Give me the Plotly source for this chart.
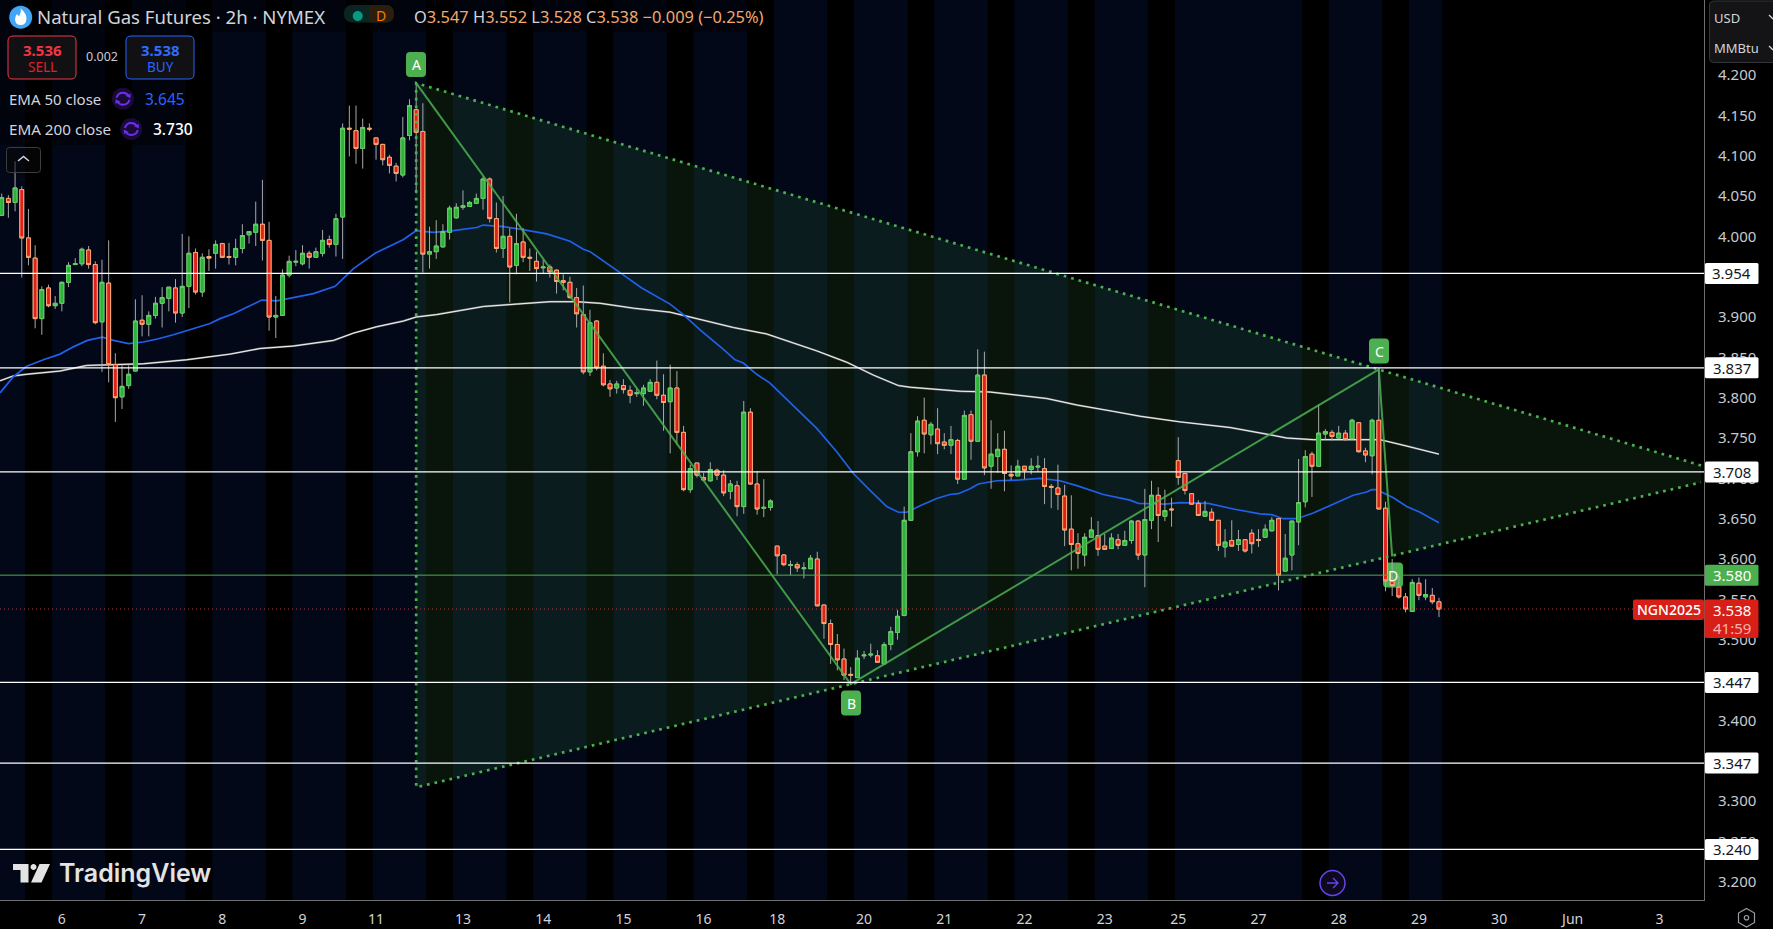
import plotly.graph_objects as go

# ---------- data (bar index 0..215, 2h bars) ----------
opens = [
4.026,4.047,4.042,4.058,3.998,3.973,3.898,3.936,3.914,3.917,
3.943,3.965,3.966,3.983,3.965,3.894,3.942,3.841,3.801,3.815,
3.833,3.896,3.891,3.902,3.917,3.923,3.936,3.905,3.938,3.980,
3.931,3.975,3.979,3.991,3.975,3.974,3.985,4.002,4.005,4.015,
3.995,3.900,3.902,3.952,3.968,3.966,3.979,3.974,3.979,3.996,
3.990,4.024,4.134,4.131,4.109,4.134,4.122,4.114,4.098,4.087,
4.076,4.125,4.157,4.130,3.978,3.981,3.987,4.005,4.023,4.036,
4.037,4.041,4.047,4.071,4.022,3.985,4.000,3.964,3.993,3.974,
3.969,3.961,3.962,3.958,3.945,3.943,3.924,3.903,3.832,3.895,
3.839,3.817,3.812,3.815,3.809,3.805,3.805,3.808,3.819,3.803,
3.795,3.812,3.757,3.686,3.719,3.701,3.697,3.710,3.704,3.684,
3.691,3.665,3.782,3.693,3.663,3.664,3.616,3.605,3.592,3.593,
3.588,3.588,3.600,3.543,3.520,3.494,3.476,3.457,3.453,3.480,
3.481,3.480,3.470,3.494,3.509,3.530,3.648,3.733,3.772,3.754,
3.761,3.745,3.741,3.747,3.699,3.779,3.746,3.828,3.715,3.727,
3.736,3.705,3.703,3.715,3.711,3.714,3.712,3.690,3.688,3.678,
3.637,3.619,3.605,3.627,3.629,3.616,3.613,3.624,3.617,3.623,
3.647,3.605,3.648,3.679,3.653,3.662,3.722,3.706,3.681,3.669,
3.653,3.658,3.648,3.615,3.623,3.618,3.624,3.632,3.624,3.627,
3.635,3.650,3.585,3.605,3.646,3.671,3.730,3.715,3.755,3.757,
3.750,3.756,3.749,3.769,3.734,3.728,3.772,3.663,3.572,3.565,
3.553,3.535,3.570,3.553,3.555,3.547]
highs = [
4.053,4.051,4.093,4.062,4.034,3.989,3.938,3.940,3.926,3.944,
3.968,3.973,3.986,3.988,3.969,3.971,3.995,3.855,3.840,3.840,
3.922,3.927,3.907,3.925,3.937,3.937,3.947,4.003,4.000,3.985,
3.979,3.984,3.995,3.992,3.992,3.997,4.015,4.006,4.043,4.070,
4.018,3.926,3.959,3.976,3.983,3.989,3.982,3.986,4.008,4.001,
4.028,4.140,4.162,4.162,4.146,4.140,4.122,4.114,4.101,4.091,
4.148,4.170,4.190,4.165,4.012,4.020,4.015,4.038,4.041,4.057,
4.044,4.053,4.074,4.073,4.042,4.050,4.010,4.028,4.010,3.985,
3.981,3.971,3.965,3.959,3.953,3.950,3.936,3.939,3.909,3.896,
3.855,3.822,3.821,3.823,3.815,3.811,3.816,3.823,3.846,3.829,
3.841,3.833,3.765,3.717,3.719,3.707,3.720,3.712,3.710,3.698,
3.697,3.796,3.787,3.709,3.699,3.674,3.616,3.606,3.598,3.596,
3.596,3.605,3.609,3.543,3.525,3.507,3.489,3.466,3.487,3.486,
3.495,3.487,3.497,3.516,3.537,3.665,3.756,3.777,3.800,3.770,
3.787,3.756,3.765,3.749,3.784,3.784,3.860,3.857,3.772,3.756,
3.759,3.716,3.723,3.715,3.725,3.728,3.725,3.693,3.717,3.692,
3.679,3.632,3.632,3.652,3.647,3.631,3.632,3.631,3.635,3.648,
3.648,3.687,3.697,3.689,3.686,3.676,3.751,3.706,3.681,3.673,
3.672,3.663,3.648,3.637,3.648,3.636,3.624,3.637,3.637,3.643,
3.652,3.650,3.631,3.647,3.724,3.735,3.733,3.792,3.761,3.760,
3.765,3.760,3.774,3.769,3.738,3.774,3.836,3.671,3.600,3.581,
3.558,3.575,3.577,3.575,3.564,3.552]
lows = [
4.026,4.023,4.031,3.949,3.964,3.886,3.878,3.912,3.910,3.907,
3.937,3.965,3.963,3.960,3.891,3.832,3.819,3.770,3.786,3.811,
3.833,3.876,3.876,3.898,3.887,3.907,3.893,3.900,3.911,3.928,
3.925,3.957,3.960,3.973,3.965,3.964,3.979,3.991,3.988,3.970,
3.883,3.874,3.902,3.949,3.963,3.964,3.960,3.974,3.975,3.986,
3.975,3.972,4.099,4.090,4.084,4.130,4.095,4.088,4.078,4.068,
4.073,4.119,4.053,3.955,3.960,3.972,3.986,3.996,4.022,4.033,
4.037,4.041,4.033,4.017,3.980,3.973,3.918,3.953,3.968,3.957,
3.944,3.954,3.949,3.929,3.933,3.923,3.887,3.829,3.827,3.834,
3.814,3.801,3.805,3.805,3.793,3.801,3.790,3.808,3.798,3.759,
3.731,3.742,3.684,3.682,3.701,3.698,3.696,3.698,3.678,3.674,
3.653,3.656,3.692,3.655,3.652,3.660,3.581,3.591,3.580,3.584,
3.576,3.588,3.541,3.501,3.470,3.462,3.450,3.444,3.453,3.476,
3.478,3.472,3.470,3.487,3.500,3.529,3.648,3.727,3.731,3.742,
3.730,3.736,3.730,3.693,3.699,3.723,3.746,3.704,3.687,3.707,
3.684,3.698,3.703,3.699,3.705,3.708,3.668,3.663,3.661,3.616,
3.586,3.588,3.591,3.627,3.604,3.612,3.613,3.612,3.617,3.619,
3.599,3.565,3.637,3.621,3.647,3.640,3.692,3.680,3.668,3.654,
3.653,3.648,3.610,3.602,3.616,3.610,3.608,3.607,3.615,3.627,
3.634,3.561,3.585,3.586,3.617,3.664,3.677,3.715,3.748,3.747,
3.750,3.747,3.749,3.732,3.720,3.705,3.662,3.560,3.554,3.551,
3.534,3.535,3.549,3.549,3.544,3.528]
closes = [
4.048,4.042,4.060,3.998,3.974,3.898,3.934,3.914,3.917,3.943,
3.964,3.966,3.984,3.965,3.893,3.943,3.841,3.800,3.814,3.829,
3.895,3.891,3.902,3.917,3.924,3.937,3.905,3.938,3.979,3.931,
3.974,3.973,3.990,3.974,3.974,3.985,4.001,4.006,4.015,3.995,
3.900,3.902,3.952,3.969,3.969,3.979,3.974,3.981,3.995,3.990,
4.022,4.134,4.133,4.109,4.135,4.133,4.114,4.095,4.088,4.078,
4.122,4.162,4.129,3.978,3.981,3.988,4.006,4.035,4.036,4.038,
4.042,4.047,4.071,4.022,3.985,4.000,3.962,3.991,3.974,3.973,
3.960,3.962,3.956,3.944,3.943,3.924,3.904,3.832,3.893,3.837,
3.816,3.811,3.817,3.810,3.803,3.806,3.812,3.819,3.803,3.794,
3.812,3.757,3.686,3.712,3.704,3.698,3.711,3.704,3.682,3.693,
3.665,3.782,3.693,3.662,3.664,3.672,3.604,3.593,3.593,3.589,
3.589,3.601,3.542,3.520,3.494,3.475,3.456,3.456,3.477,3.481,
3.482,3.472,3.494,3.510,3.529,3.648,3.733,3.771,3.755,3.767,
3.743,3.741,3.748,3.699,3.778,3.746,3.828,3.713,3.730,3.736,
3.706,3.703,3.715,3.710,3.715,3.715,3.690,3.689,3.680,3.636,
3.618,3.607,3.627,3.636,3.612,3.612,3.626,3.617,3.623,3.647,
3.605,3.649,3.679,3.654,3.660,3.661,3.701,3.685,3.668,3.654,
3.659,3.648,3.617,3.621,3.616,3.624,3.610,3.619,3.623,3.637,
3.648,3.580,3.601,3.647,3.670,3.727,3.715,3.756,3.758,3.752,
3.756,3.748,3.772,3.733,3.729,3.772,3.662,3.573,3.567,3.553,
3.538,3.571,3.555,3.556,3.547,3.538]

ema50_bar = [-0.25,1.75,3.74,6.23,8.73,10.72,12.82,13.97,15.06,16.71,18.95,21.2,23.44,25.69,28.68,31.17,
 32.67,34.66,36.66,38.9,41.15,43.14,46.63,49.88,52.62,55.86,60.1,62,64.57,67.56,71.05,72.05,75.04,77.54,
 81.53,85.02,87.01,88.01,90.5,92.5,95.74,99.98,101.97,104.47,107.96,109.7,110.94,112.94,114.93,117.93,
 121.92,124.91,127.4,129.9,132.39,134.14,135.38,137.38,139.86,141.85,143.1,144.85,146.09,148.84,152.33,
 155.32,158.31,160.81,164.8,168.79,170.03,174.02,176.27,180.51,184.25,188.24,189.98,191.71,193.71,196.2,
 198.69,202.18,204.18,204.93,205.68,208.17,210.17,212.16,215]
ema50_val = [3.806,3.826,3.839,3.847,3.854,3.863,3.871,3.873,3.875,3.871,3.867,3.869,3.873,3.878,3.886,3.892,
 3.898,3.904,3.912,3.921,3.920,3.923,3.929,3.938,3.960,3.979,3.996,4.007,4.005,4.007,4.011,4.014,4.012,4.009,
 4.003,3.994,3.984,3.981,3.967,3.955,3.936,3.916,3.903,3.884,3.860,3.847,3.843,3.829,3.818,3.794,
 3.762,3.733,3.706,3.685,3.665,3.658,3.658,3.666,3.675,3.680,3.681,3.687,3.693,3.697,3.698,
 3.700,3.697,3.691,3.680,3.673,3.669,3.668,3.670,3.669,3.662,3.656,3.655,3.650,3.650,3.657,
 3.666,3.679,3.683,3.686,3.686,3.676,3.665,3.658,3.645]
ema200_bar = [-0.25,1.75,3.74,8.73,12.72,16.71,21.2,27.68,34.16,38.65,43.64,49.63,52.62,56.11,60.1,62,65.09,
 68.58,72.05,77.04,82.02,86.01,89.51,94.49,99.98,102.97,109.45,114.43,121.92,126.4,130.4,134.14,135.87,
 143.35,147.84,156.32,160.81,166.29,170.28,176.27,183.75,189.73,192.21,196.2,206.18,210.17,215]
ema200_val = [3.821,3.827,3.829,3.833,3.840,3.841,3.842,3.847,3.854,3.861,3.864,3.871,3.880,3.888,3.895,3.900,3.903,
 3.908,3.913,3.916,3.919,3.919,3.917,3.911,3.906,3.900,3.887,3.879,3.858,3.844,3.828,3.815,3.813,
 3.808,3.807,3.799,3.791,3.783,3.777,3.770,3.763,3.754,3.750,3.748,3.748,3.740,3.730]

level_lines = [3.954,3.837,3.708,3.447,3.347,3.240]
level_green = 3.580
last_price = 3.538
y_ticks = [4.2,4.15,4.1,4.05,4.0,3.9,3.85,3.8,3.75,3.7,3.65,3.6,3.55,3.5,3.4,3.3,3.25,3.2]
y_labels = ["%.3f" % v for v in y_ticks]
x_tick_bars = [9,21,33,45,56,69,81,93,105,116,129,141,153,165,176,188,200,212,224,235,248]
x_tick_text = ["6","7","8","9","11","13","14","15","16","18","20","21","22","23","25","27","28","29","30","Jun","3"]
session_start = [-0.3,7.5,19.5,31.5,43.5,55.5,67.5,79.5,91.5,103.5,115.5,127.5,139.5,151.5,163.5,175.5,198.5,210.5]
session_end = [3.5,15.5,27.5,39.5,51.5,63.5,75.5,87.5,99.5,111.5,123.5,135.5,147.5,159.5,171.5,194.5,206.5,215.5]
# harmonic pattern pivots
abcd_bars = [62,127,206,208]
abcd_vals = [4.190,3.445,3.835,3.603]
x_point = (62,3.317)
upper_end = (254.2,3.716)
lower_end = (254.2,3.695)

# ---------- layout helpers (screen pixels of the 1773x929 page) ----------
W, H, PW, PH = 1773, 929, 1704, 900
dx = 6.685
x0_px = 1.7
x_range = [(0 - x0_px) / dx, (PW - x0_px) / dx]
pxy = 806.7
y_range = [4.2 - (PH - 75) / pxy, 4.2 + 75 / pxy]
FONT = "Noto Sans"
GREEN = "#4caf50"

def xp(x): return x / PW
def yp(y): return 1 - y / PH

annots, shapes = [], []

def txt(x, y, text, size=14, color="#d1d4dc", anchor="left", weight=None, family=FONT):
    f = dict(family=family, size=size, color=color)
    if weight: f["weight"] = weight
    annots.append(dict(xref="paper", yref="paper", x=xp(x), y=yp(y), text=text, showarrow=False,
                       xanchor=anchor, yanchor="middle", font=f, borderpad=0, borderwidth=0))

def path_shape(d, fill=None, line=None, lw=1, layer="above"):
    s = dict(type="path", path=d, xsizemode="pixel", ysizemode="pixel", xref="paper", yref="paper",
             xanchor=0, yanchor=1, layer=layer, line=dict(color=line or "rgba(0,0,0,0)", width=lw if line else 0))
    if fill: s["fillcolor"] = fill
    shapes.append(s)

def rrect(x0, y0, x1, y1, r=3, fill=None, line=None, lw=1, layer="above"):
    d = (f"M{x0+r},{-y0} L{x1-r},{-y0} Q{x1},{-y0} {x1},{-y0-r} L{x1},{-y1+r} Q{x1},{-y1} {x1-r},{-y1} "
         f"L{x0+r},{-y1} Q{x0},{-y1} {x0},{-y1+r} L{x0},{-y0-r} Q{x0},{-y0} {x0+r},{-y0} Z")
    path_shape(d, fill, line, lw, layer)

def circle(cx, cy, r, fill=None, line=None, lw=1):
    k = r * 0.5523
    d = (f"M{cx-r},{-cy} C{cx-r},{-cy+k} {cx-k},{-cy+r} {cx},{-cy+r} C{cx+k},{-cy+r} {cx+r},{-cy+k} {cx+r},{-cy} "
         f"C{cx+r},{-cy-k} {cx+k},{-cy-r} {cx},{-cy-r} C{cx-k},{-cy-r} {cx-r},{-cy-k} {cx-r},{-cy} Z")
    path_shape(d, fill, line, lw)

# --- session bands (data-x, full height)
for a, b in zip(session_start, session_end):
    shapes.append(dict(type="rect", xref="x", yref="paper", x0=a, x1=b, y0=0, y1=1, layer="below",
                       fillcolor="#020817", line=dict(width=0)))

# legend darkening
rrect(0, 0, 190, 145, 0, fill="rgba(0,0,0,0.4)")
rrect(190, 0, 770, 32, 0, fill="rgba(0,0,0,0.4)")

# --- horizontal levels
for v in level_lines:
    shapes.append(dict(type="line", xref="paper", yref="y", x0=0, x1=1, y0=v, y1=v, layer="above",
                       line=dict(color="#ffffff", width=1.3)))
shapes.append(dict(type="line", xref="paper", yref="y", x0=0, x1=1, y0=level_green, y1=level_green, layer="above",
                   line=dict(color=GREEN, width=1)))
shapes.append(dict(type="line", xref="paper", yref="y", x0=0, x1=1, y0=last_price, y1=last_price, layer="above",
                   line=dict(color="#d32f2f", width=1, dash="1px,3px")))

def price_y(p): return 75 + (4.2 - p) * pxy

# --- price axis labels
for v in level_lines:
    yy = price_y(v)
    rrect(1705, yy - 10.5, 1758.5, yy + 10.5, 1.5, fill="#ffffff")
    txt(1732, yy, "%.3f" % v, 15, "#131722", "center")
yy = price_y(level_green)
rrect(1705, yy - 10.5, 1758.5, yy + 10.5, 1.5, fill=GREEN)
txt(1732, yy, "%.3f" % level_green, 15, "#ffffff", "center")
# last price
RED = "#d81f17"
rrect(1633, 599.5, 1704, 620, 2, fill=RED)
txt(1668.5, 609.7, "NGN2025", 14, "#ffffff", "center", 500)
rrect(1704.5, 599.5, 1758.5, 638, 2, fill=RED)
txt(1732, 609.7, "%.3f" % last_price, 15, "#ffffff", "center")
txt(1732, 627.7, "41:59", 15, "#f7b4ac", "center")

# --- pattern point labels
for name, cx, cy, layer in [("A", 416, 64.5, "above"), ("B", 851, 703, "above"), ("C", 1379, 351, "above"), ("D", 1393, 575, "between")]:
    rrect(cx - 10, cy - 12.5, cx + 10, cy + 12.5, 4, fill=GREEN, layer=layer)
    txt(cx, cy, name, 14, "#ffffff", "center")

# --- top-left legend
circle(20.7, 17.3, 11.5, fill="#42a5f5")
path_shape("M20.8,-8.5 Q27,-14 26.5,-19 Q26,-25 20.7,-25 Q15.5,-25 15,-19.5 Q15,-16 17,-14 Q18,-16 19.2,-16 Q21.5,-12 20.8,-8.5 Z", fill="#ffffff")
txt(36.5, 17, "Natural Gas Futures · 2h · NYMEX", 18.6, "#d1d4dc")
rrect(344, 5, 394, 22.5, 8.5, fill="#0b2622")
path_shape("M369,-5 L385.5,-5 Q394,-5 394,-13.75 Q394,-22.5 385.5,-22.5 L369,-22.5 Z", fill="#2c1d0c")
circle(357.7, 16, 5, fill="#089981")
txt(381, 15.5, "D", 14, "#f57c00", "center")
ohlc_parts = [("O", "3.547"), ("H", "3.552"), ("L", "3.528"), ("C", "3.538")]
ORANGE = "#f5a76e"
s = "".join(f"<span style='color:#d1d4dc'>{a}</span><span style='color:{ORANGE}'>{b}</span> " for a, b in ohlc_parts)
s += f"<span style='color:{ORANGE}'>−0.009 (−0.25%)</span>"
txt(414, 16.5, s, 16.4)

rrect(8, 36, 76, 79, 5, fill="#111114", line="#f23645", lw=1)
txt(42, 50, "3.536", 15, "#f23645", "center", 700)
txt(42, 67.5, "SELL", 13.5, "#e0202c", "center")
txt(101.5, 56.5, "0.002", 12.5, "#c8cad0", "center")
rrect(126, 36, 194, 79, 5, fill="#111114", line="#2962ff", lw=1)
txt(160, 50, "3.538", 15, "#2f6bff", "center", 700)
txt(160, 67.5, "BUY", 13.5, "#2962ff", "center")

def sync_icon(cx, cy):
    circle(cx, cy, 11, fill="#180c36")
    P = "#6d2cf0"
    path_shape(f"M{cx-6.5},{-cy+1} Q{cx-5},{-cy+6} {cx},{-cy+6} Q{cx+3.5},{-cy+6} {cx+5.5},{-cy+3}", line=P, lw=2)
    path_shape(f"M{cx+6.5},{-cy-1} Q{cx+5},{-cy-6} {cx},{-cy-6} Q{cx-3.5},{-cy-6} {cx-5.5},{-cy-3}", line=P, lw=2)
    path_shape(f"M{cx+2.5},{-cy+3} L{cx+7.5},{-cy+5} L{cx+7.5},{-cy+0.5} Z", fill=P)
    path_shape(f"M{cx-2.5},{-cy-3} L{cx-7.5},{-cy-5} L{cx-7.5},{-cy-0.5} Z", fill=P)

txt(9, 98.5, "EMA 50 close", 15)
sync_icon(123, 98.7)
txt(144.5, 98.5, "3.645", 15.5, "#2962ff")
txt(9, 129, "EMA 200 close", 15.2)
sync_icon(131.3, 129)
txt(152.5, 129, "3.730", 15.5, "#ffffff", weight=500)
rrect(6.5, 147.5, 40.5, 172.5, 3, fill="rgba(10,10,10,0.55)", line="#3d3d3d", lw=1)
path_shape("M18,-161 L23.5,-156.5 L29,-161", line="#d1d4dc", lw=1.5)

# --- currency box
rrect(1709.5, 1, 1790, 62.5, 4, fill="#141416", line="#33353a", lw=1)
txt(1714, 17.5, "USD", 13, "#d1d4dc")
txt(1714, 48, "MMBtu", 13, "#d1d4dc")
path_shape("M1769,-15 L1773,-19", line="#d1d4dc", lw=1.3)
path_shape("M1769,-46 L1773,-50", line="#d1d4dc", lw=1.3)

# --- TradingView logo
L = "#e3e3e3"
path_shape("M13,-864 L28.5,-864 L28.5,-882.5 L20.5,-882.5 L20.5,-870 L13,-870 Z", fill=L)
circle(33.5, 867, 3, fill=L)
path_shape("M39.5,-864 L50,-864 L41.5,-882.5 L31,-882.5 Z", fill=L)
txt(58.5, 873, "TradingView", 25, L, weight=600, family="Inter")

# --- replay / goto icon and gear
circle(1332.5, 883, 12.5, fill="#0d0a20", line="#6a43f0", lw=1.5)
path_shape("M1327,-883 L1338,-883 M1333,-878 L1338,-883 L1333,-888", line="#6a43f0", lw=1.3)
path_shape("M1746.5,-908.5 L1754.5,-913 L1754.5,-922.5 L1746.5,-927 L1738.5,-922.5 L1738.5,-913 Z", line="#9a9da3", lw=1.2)
circle(1746.5, 917.7, 2.2, line="#9a9da3", lw=1.2)

# ---------- traces ----------
bars = list(range(len(opens)))
fig = go.Figure()

# pattern fill (base layer)
fig.add_trace(go.Scatter(x=[x_point[0], abcd_bars[0], upper_end[0], lower_end[0], x_point[0]],
                         y=[x_point[1], abcd_vals[0], upper_end[1], lower_end[1], x_point[1]],
                         mode="lines", fill="toself", fillcolor="rgba(76,175,80,0.12)",
                         line=dict(width=0), hoverinfo="skip", showlegend=False))
# EMAs under candles
fig.add_trace(go.Scatter(x=ema200_bar, y=ema200_val, mode="lines", line=dict(color="#7a7a7a", width=2),
                         hoverinfo="skip", showlegend=False))
fig.add_trace(go.Scatter(x=ema200_bar, y=ema200_val, mode="lines", line=dict(color="#f2f2f2", width=1),
                         name="EMA 200", showlegend=False))
fig.add_trace(go.Scatter(x=ema50_bar, y=ema50_val, mode="lines", line=dict(color="#2160ea", width=1.7),
                         name="EMA 50", showlegend=False))

# candles: wicks then bodies
fig.add_trace(go.Candlestick(x=bars, open=opens, high=highs, low=lows, close=closes, xaxis="x2", yaxis="y2",
                             whiskerwidth=0, showlegend=False,
                             increasing=dict(line=dict(color="#a8a8a8", width=1), fillcolor="#a8a8a8"),
                             decreasing=dict(line=dict(color="#a8a8a8", width=1), fillcolor="#a8a8a8")))
fig.add_trace(go.Candlestick(x=bars, open=opens, close=closes,
                             high=[max(a, b) for a, b in zip(opens, closes)],
                             low=[min(a, b) for a, b in zip(opens, closes)],
                             xaxis="x2", yaxis="y2", whiskerwidth=0, showlegend=False,
                             increasing=dict(line=dict(color="#62cf62", width=1), fillcolor="#2cb23a"),
                             decreasing=dict(line=dict(color="#ffa870", width=1), fillcolor="#e0201a")))

# pattern lines on top of candles
fig.add_trace(go.Scatter(x=abcd_bars, y=abcd_vals, mode="lines", xaxis="x3", yaxis="y3",
                         line=dict(color="rgba(76,175,80,0.85)", width=2), hoverinfo="skip", showlegend=False))
fig.add_trace(go.Scatter(x=[upper_end[0], abcd_bars[0], x_point[0], lower_end[0]],
                         y=[upper_end[1], abcd_vals[0], x_point[1], lower_end[1]],
                         mode="lines", xaxis="x3", yaxis="y3",
                         line=dict(color=GREEN, width=2.7, dash="2.7px,5px"), hoverinfo="skip", showlegend=False))

hidden = dict(visible=False, fixedrange=True, rangeslider=dict(visible=False))
fig.update_layout(
    width=W, height=H, autosize=False, margin=dict(l=0, r=W - PW, t=0, b=H - PH),
    paper_bgcolor="#000000", plot_bgcolor="#000000", showlegend=False, boxgap=0.42, boxgroupgap=0,
    font=dict(family=FONT, color="#d1d4dc", size=14),
    xaxis=dict(range=x_range, tickmode="array", tickvals=x_tick_bars, ticktext=x_tick_text, showgrid=False,
               zeroline=False, showline=True, linecolor="#6e6e6e", linewidth=1, ticks="outside", ticklen=6,
               tickcolor="rgba(0,0,0,0)", tickfont=dict(size=14, color="#d1d4dc"), rangeslider=dict(visible=False)),
    yaxis=dict(range=y_range, side="right", tickmode="array", tickvals=y_ticks, ticktext=y_labels, showgrid=False,
               zeroline=False, showline=True, linecolor="#6e6e6e", linewidth=1, ticks="outside", ticklen=10,
               tickcolor="rgba(0,0,0,0)", tickfont=dict(size=15, color="#c8cad0")),
    xaxis2=dict(range=x_range, overlaying="x", **hidden),
    yaxis2=dict(range=y_range, overlaying="y", visible=False, fixedrange=True),
    xaxis3=dict(range=x_range, overlaying="x", **hidden),
    yaxis3=dict(range=y_range, overlaying="y", visible=False, fixedrange=True),
    shapes=shapes, annotations=annots,
)

fig.write_html("out.html", config=dict(displayModeBar=False),
               post_script="document.body.style.margin='0';document.body.style.background='#000';document.body.style.overflow='hidden';")
